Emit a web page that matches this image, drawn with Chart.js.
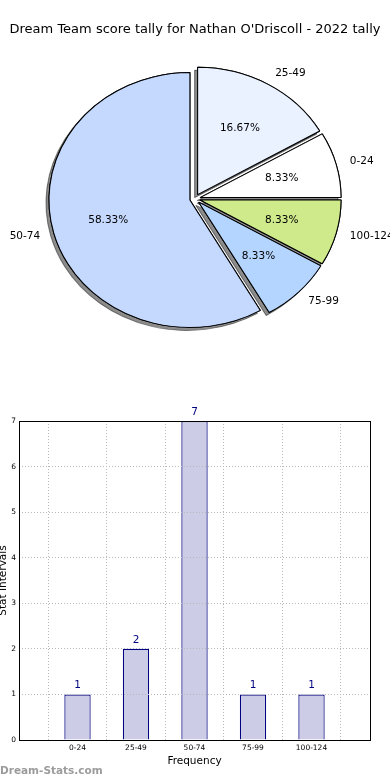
<!DOCTYPE html>
<html>
<head>
<meta charset="utf-8">
<script src="https://cdn.jsdelivr.net/npm/chart.js@4"></script>
<style>
  html, body { margin: 0; padding: 0; background: #fff; overflow: hidden; }
  body { width: 390px; height: 780px; position: relative; font-family: "DejaVu Sans", sans-serif; }
  #pieWrap { position: absolute; left: 0; top: 0; width: 390px; height: 380px; }
  #barWrap { position: absolute; left: -6px; top: 400px; width: 396px; height: 380px; }
  #mark { position: absolute; left: 0; top: 764px; font: bold 10.5px "DejaVu Sans", sans-serif; color: #9c9c9c; }
</style>
</head>
<body>
<div id="pieWrap"><canvas id="pieChart"></canvas></div>
<div id="barWrap"><canvas id="barChart"></canvas></div>
<div id="mark">Dream-Stats.com</div>
<script>
// Score intervals and how often each one came up
const categories = ['0-24', '25-49', '50-74', '75-99', '100-124'];
const counts = [1, 2, 7, 1, 1];
const pieColors = ['#ffffff', '#eaf1ff', '#c5d9ff', '#b4d5ff', '#cfea8b'];
const yTicks = [0, 1, 2, 3, 4, 5, 6, 7];

const title = "Dream Team score tally for Nathan O'Driscoll - 2022 tally";
const font = '"DejaVu Sans", sans-serif';

// matplotlib goes counter-clockwise from 3 o'clock, chart.js clockwise -> reverse the order
const pieLabels = categories.slice().reverse();
const pieValues = counts.slice().reverse();
const pieFill = pieColors.slice().reverse();
const total = counts.reduce((a, b) => a + b, 0);

const EXPLODE = 5; // px each slice is pushed out
const KX = 1.052, KY = 0.951; // the original pie is a bit wider than tall

// moves the ctx so a slice is drawn squashed and pushed out from the centre
function placeSlice(ctx, arc) {
    const mid = (arc.startAngle + arc.endAngle) / 2;
    ctx.translate(arc.x, arc.y);
    ctx.scale(KX, KY);
    ctx.translate(Math.cos(mid) * EXPLODE, Math.sin(mid) * EXPLODE);
    ctx.translate(-arc.x, -arc.y);
}

const pieExtras = {
    id: 'pieExtras',
    // shadows for all slices first, then the slices themselves
    beforeDatasetsDraw(chart) {
        const ctx = chart.ctx;
        const arcs = chart.getDatasetMeta(0).data;
        arcs.forEach(arc => {
            ctx.save();
            ctx.shadowColor = 'rgba(0,0,0,0.45)';
            ctx.shadowOffsetX = -3;
            ctx.shadowOffsetY = 3;
            ctx.shadowBlur = 0;
            placeSlice(ctx, arc);
            arc.draw(ctx);
            ctx.restore();
        });
        arcs.forEach(arc => {
            ctx.save();
            placeSlice(ctx, arc);
            arc.draw(ctx);
            ctx.restore();
        });
        return false;
    },
    // category names outside, percentages inside
    afterDraw(chart) {
        const ctx = chart.ctx;
        ctx.save();
        ctx.font = '10.5px ' + font;
        ctx.fillStyle = '#000';
        ctx.textBaseline = 'middle';
        chart.getDatasetMeta(0).data.forEach((arc, i) => {
            const mid = (arc.startAngle + arc.endAngle) / 2;
            const r = arc.outerRadius;
            const at = k => [arc.x + KX * Math.cos(mid) * (EXPLODE + r * k),
                             arc.y + KY * Math.sin(mid) * (EXPLODE + r * k)];

            ctx.textAlign = Math.cos(mid) >= 0 ? 'left' : 'right';
            const out = at(1.1);
            ctx.fillText(pieLabels[i], out[0], out[1]);

            ctx.textAlign = 'center';
            const inn = at(0.6);
            ctx.fillText((pieValues[i] / total * 100).toFixed(2) + '%', inn[0], inn[1]);
        });
        ctx.restore();
    }
};

new Chart(document.getElementById('pieChart'), {
    type: 'pie',
    data: {
        labels: pieLabels,
        datasets: [{
            data: pieValues,
            backgroundColor: pieFill,
            borderColor: '#000',
            borderWidth: 1
        }]
    },
    options: {
        responsive: true,
        maintainAspectRatio: false,
        animation: false,
        rotation: 90,
        radius: 134,
        layout: { padding: { top: 0, bottom: 20, left: 0, right: 0 } },
        plugins: {
            legend: { display: false },
            tooltip: { enabled: false },
            title: {
                display: true,
                text: title,
                color: '#000',
                font: { family: font, size: 13, weight: 'normal' },
                padding: { top: 22, bottom: 0 }
            }
        }
    },
    plugins: [pieExtras]
});

// values above the bars and the box round the plot
const barText = {
    id: 'barText',
    afterDatasetsDraw(chart) {
        const ctx = chart.ctx;
        ctx.save();
        ctx.font = '10.5px ' + font;
        ctx.fillStyle = '#000080';
        ctx.textAlign = 'center';
        ctx.textBaseline = 'middle';
        chart.getDatasetMeta(0).data.forEach((bar, i) => {
            ctx.fillText(String(counts[i]), bar.x, bar.y - 9);
        });
        ctx.restore();
    },
    afterDraw(chart) {
        const a = chart.chartArea;
        const ctx = chart.ctx;
        ctx.save();
        ctx.strokeStyle = '#000';
        ctx.lineWidth = 1;
        ctx.strokeRect(Math.round(a.left) + 0.5, Math.round(a.top) + 0.5,
            Math.round(a.right - a.left), Math.round(a.bottom - a.top));
        ctx.restore();
    }
};

const dotted = {
    color: '#b8b8b8',
    lineWidth: 1,
    z: 1,
    drawTicks: false
};

new Chart(document.getElementById('barChart'), {
    type: 'bar',
    data: {
        datasets: [{
            data: counts.map((v, i) => ({ x: i + 1, y: v })),
            backgroundColor: '#ccccE6',
            borderColor: '#000080',
            borderWidth: 1.2,
            barPercentage: 0.45,
            categoryPercentage: 1
        }]
    },
    options: {
        responsive: true,
        maintainAspectRatio: false,
        animation: false,
        layout: { padding: { top: 21, right: 20, bottom: 0, left: 0 } },
        plugins: { legend: { display: false }, tooltip: { enabled: false } },
        scales: {
            x: {
                type: 'linear',
                offset: false,
                min: 0,
                max: categories.length + 1,
                afterFit: s => { s.height = 40; },
                afterBuildTicks: s => { s.ticks = yTicks.slice(0, categories.length + 2).map(v => ({ value: v })); },
                grid: dotted,
                border: { display: false, dash: [1, 2] },
                ticks: {
                    color: '#000',
                    font: { family: font, size: 7.5 },
                    padding: 4,
                    maxRotation: 0,
                    autoSkip: false,
                    callback: v => categories[v - 1] || ''
                },
                title: {
                    display: true,
                    text: 'Frequency',
                    color: '#000',
                    font: { family: font, size: 10.5 },
                    padding: { top: 0, bottom: 12 }
                }
            },
            y: {
                min: yTicks[0],
                max: yTicks[yTicks.length - 1],
                afterFit: s => { s.width = 25; },
                afterBuildTicks: s => { s.ticks = yTicks.map(v => ({ value: v })); },
                grid: dotted,
                border: { display: false, dash: [1, 2] },
                ticks: {
                    color: '#000',
                    font: { family: font, size: 7.5 },
                    padding: 3
                },
                title: {
                    display: true,
                    text: 'Stat Intervals',
                    color: '#000',
                    font: { family: font, size: 10.5 },
                    padding: { top: 3, bottom: 0 }
                }
            }
        }
    },
    plugins: [barText]
});
</script>
</body>
</html>
